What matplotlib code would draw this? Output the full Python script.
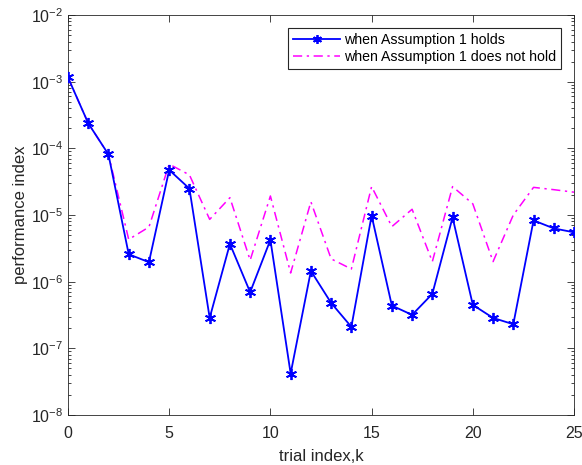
import numpy as np
import matplotlib
matplotlib.use("Agg")
import matplotlib.pyplot as plt
from matplotlib.ticker import LogLocator, FixedLocator

plt.rcParams['font.family'] = ['Liberation Sans', 'DejaVu Sans']
plt.rcParams['mathtext.fontset'] = 'custom'
plt.rcParams['mathtext.rm'] = 'Liberation Sans'
plt.rcParams['mathtext.it'] = 'Liberation Sans'

trials = list(range(26))
holds = [1.16e-3, 2.38e-4, 8.1e-5, 2.58e-6, 1.96e-6, 4.74e-5, 2.49e-5, 2.86e-7,
         3.69e-6, 6.95e-7, 4.24e-6, 4.19e-8, 1.45e-6, 4.8e-7, 2.1e-7, 9.8e-6,
         4.38e-7, 3.18e-7, 6.56e-7, 9.2e-6, 4.49e-7, 2.86e-7, 2.3e-7, 8.3e-6,
         6.3e-6, 5.5e-6]
not_holds = [1.16e-3, 2.38e-4, 8.1e-5, 4.3e-6, 6.6e-6, 5.8e-5, 4.0e-5, 8.6e-6,
             1.82e-5, 2.1e-6, 1.93e-5, 1.35e-6, 1.58e-5, 2.2e-6, 1.55e-6, 2.67e-5,
             6.7e-6, 1.22e-5, 2.0e-6, 2.67e-5, 1.47e-5, 2.0e-6, 1.0e-5, 2.6e-5,
             2.4e-5, 2.2e-5]
x_ticks = [0, 5, 10, 15, 20, 25]
y_decades = [1e-8, 1e-7, 1e-6, 1e-5, 1e-4, 1e-3, 1e-2]
labels = ['when Assumption 1 holds', 'when Assumption 1 does not hold']

dark = '#262626'
fig = plt.figure(figsize=(5.82, 4.65), dpi=100)
ax = fig.add_axes([0.1168, 0.1075, 0.8695, 0.8602])

ax.plot(trials, holds, color='#0000ff', lw=1.3, marker=(6, 2, 0), ms=8,
        mew=1.3, label=labels[0], zorder=3)
ax.plot(trials, not_holds, color='#ff00ff', lw=1.1, ls=(0, (6, 3, 1.5, 3)),
        label=labels[1], zorder=2)

ax.set_yscale('log')
ax.set_xlim(0, 25)
ax.set_ylim(1e-8, 1e-2)
ax.xaxis.set_major_locator(FixedLocator(x_ticks))
ax.yaxis.set_major_locator(FixedLocator(y_decades))
ax.yaxis.set_minor_locator(LogLocator(base=10, subs=np.arange(2, 10), numticks=20))
ax.yaxis.set_minor_formatter(plt.NullFormatter())
ax.set_yticklabels([r'$10^{%d}$' % int(np.log10(v)) for v in y_decades])

ax.tick_params(which='both', direction='in', top=True, right=True,
               colors=dark, labelcolor=dark, labelsize=11.5, width=0.6)
ax.tick_params(which='major', length=5)
ax.tick_params(which='minor', length=2.5)
ax.tick_params(axis='x', pad=8)
for s in ax.spines.values():
    s.set_color(dark)
    s.set_linewidth(0.6)

ax.set_xlabel('trial index,k', fontsize=12, color=dark, labelpad=6)
ax.set_ylabel('performance index', fontsize=12, color=dark, labelpad=2)

leg = ax.legend(loc='upper right', bbox_to_anchor=(0.975, 0.9675), fontsize=10.2,
                frameon=True, fancybox=False, edgecolor=dark, framealpha=1,
                handlelength=3.3, borderpad=0.35, labelspacing=0.2,
                handletextpad=0.3, borderaxespad=0, markerscale=0.8)
leg.get_frame().set_linewidth(0.8)
for t in leg.get_texts():
    t.set_color('black')

fig.savefig('out.png', dpi=100)
